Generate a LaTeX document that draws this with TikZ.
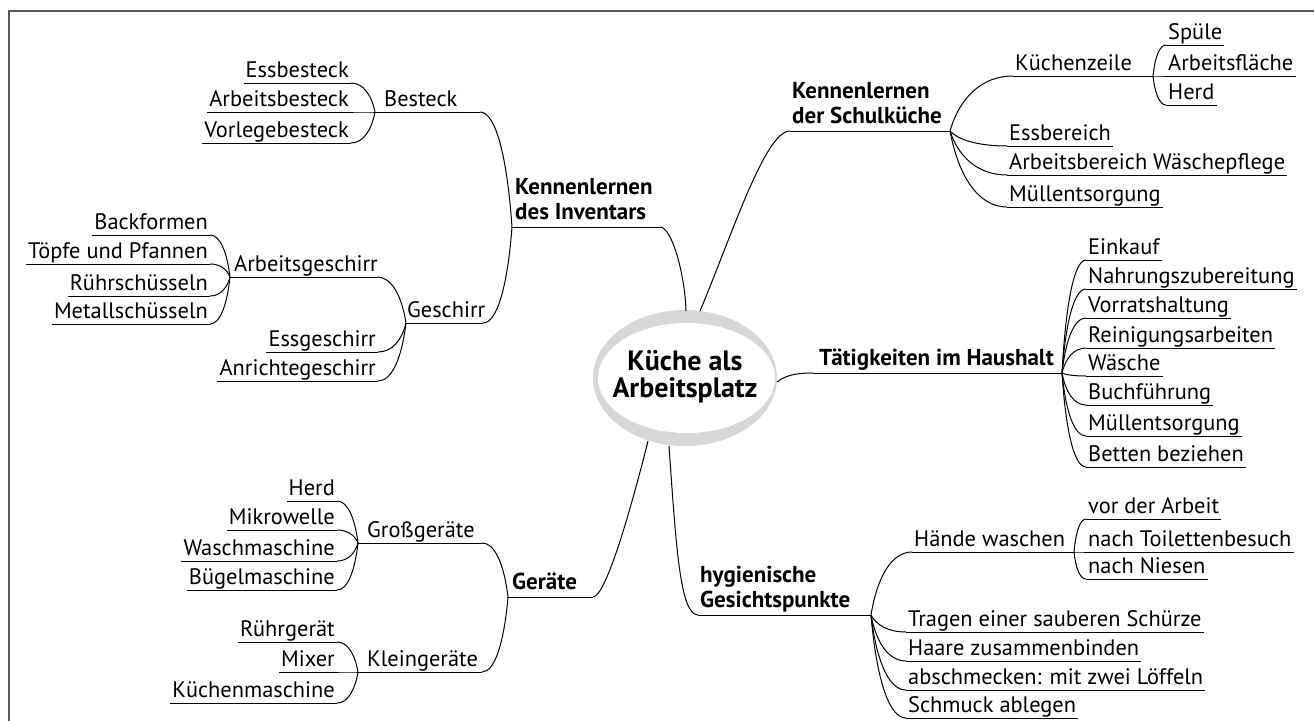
\documentclass[tikz,border=0pt]{standalone}
\usepackage{fontspec}
\setmainfont{PT Sans}
\usetikzlibrary{calc,shapes.geometric}
\definecolor{ringgray}{HTML}{D6D7D7}
\definecolor{framegray}{HTML}{5A5A5A}
\tikzset{
  conn/.style={line width=1pt, black},
  lbl/.style={font=\fontsize{22.4}{26}\selectfont, inner xsep=2pt, inner ysep=5pt, text depth=0pt},
  mainlbl/.style={font=\bfseries\fontsize{23}{25}\selectfont, align=left, inner xsep=2pt, inner ysep=7.5pt, text depth=0pt},
  frameline/.style={line width=1.6pt, framegray}
}
% curve from junction #1 to child underline end #2
\newcommand\lnk[2]{\draw[conn] let \p1=(#1), \p2=(#2) in (\p1) .. controls ({\x1+0.15*(\x2-\x1)},{\y1+0.6*(\y2-\y1)}) and ({\x1+0.5*(\x2-\x1)},{\y2}) .. (\p2);}
% leaf on the right side: name, x start, y underline, text
\newcommand\leafR[4]{\node[lbl,anchor=south west] (#1) at (#2,#3) {#4}; \draw[conn] (#1.south west) -- (#1.south east);}
% leaf on the left side: name, x end, y underline, text
\newcommand\leafL[4]{\node[lbl,anchor=south east] (#1) at (#2,#3) {#4}; \draw[conn] (#1.south east) -- (#1.south west);}
\begin{document}
\begin{tikzpicture}[x=1pt,y=-1pt]
\useasboundingbox (0,0) rectangle (1314,720);
\fill[white] (0,0) rectangle (1314,720);
\draw[frameline] (9,721) -- (9,11) -- (1315,11);

% ---------- centre ----------
\node[ellipse, fill=ringgray, minimum width=184pt, minimum height=136pt, inner sep=0pt] (ring) at (685,378) {};
\node[ellipse, fill=white, minimum width=177pt, minimum height=110pt, inner sep=0pt] (hole) at (686.5,378) {};
\node[font=\bfseries\fontsize{28}{27}\selectfont, align=center, text depth=0pt, inner sep=0pt] (center) at (685,373.5) {Küche als\\Arbeitsplatz};
\coordinate (eKdi) at (686,311);
\coordinate (eKs) at (700,311);
\coordinate (eTat) at (777,382);
\coordinate (eHyg) at (669,446);
\coordinate (eGer) at (648,441);

% ---------- Kennenlernen des Inventars ----------
\coordinate (kdiL) at (512,227); \coordinate (kdiR) at (660,227);
\node[mainlbl, anchor=south west] (kdi) at (513,227) {Kennenlernen\\des Inventars};
\draw[conn] (kdiL) -- (kdiR);
\draw[conn] (eKdi) .. controls (685,275) and (672,227) .. (kdiR);

\coordinate (besL) at (375,112); \coordinate (besR) at (480,112);
\node[lbl, anchor=south west] (bes) at (382,112) {Besteck};
\draw[conn] (besL) -- (besR);
\lnk{kdiL}{besR}
\leafL{b1}{351}{83}{Essbesteck}
\leafL{b2}{351}{112}{Arbeitsbesteck}
\leafL{b3}{351}{143}{Vorlegebesteck}
\lnk{besL}{b1.south east}
\lnk{besL}{b2.south east}
\lnk{besL}{b3.south east}

\coordinate (gesL) at (406,323); \coordinate (gesR) at (483,323);
\node[lbl, anchor=south west] (ges) at (405,323) {Geschirr};
\draw[conn] (gesL) -- (gesR);
\lnk{kdiL}{gesR}

\coordinate (agL) at (230,277); \coordinate (agR) at (377,277);
\node[lbl, anchor=south west] (ag) at (232,277) {Arbeitsgeschirr};
\draw[conn] (agL) -- (agR);
\lnk{gesL}{agR}
\leafL{a1}{210}{235}{Backformen}
\leafL{a2}{210}{264}{Töpfe und Pfannen}
\leafL{a3}{210}{296}{Rührschüsseln}
\leafL{a4}{210}{324}{Metallschüsseln}
\lnk{agL}{a1.south east}
\lnk{agL}{a2.south east}
\lnk{agL}{a3.south east}
\lnk{agL}{a4.south east}
\leafL{g1}{378}{352}{Essgeschirr}
\leafL{g2}{378}{381}{Anrichtegeschirr}
\lnk{gesL}{g1.south east}
\lnk{gesL}{g2.south east}

% ---------- Geräte ----------
\coordinate (gerL) at (508,597); \coordinate (gerR) at (593,597);
\node[mainlbl, anchor=south west] (ger) at (510,597) {Geräte};
\draw[conn] (gerL) -- (gerR);
\draw[conn] (eGer) .. controls (632,505) and (606,597) .. (gerR);

\coordinate (ggL) at (358,543); \coordinate (ggR) at (482,543);
\node[lbl, anchor=south west] (gg) at (365,543) {Großgeräte};
\draw[conn] (ggL) -- (ggR);
\lnk{gerL}{ggR}
\leafL{r1}{337}{501}{Herd}
\leafL{r2}{337}{530}{Mikrowelle}
\leafL{r3}{337}{561}{Waschmaschine}
\leafL{r4}{337}{590}{Bügelmaschine}
\lnk{ggL}{r1.south east}
\lnk{ggL}{r2.south east}
\lnk{ggL}{r3.south east}
\lnk{ggL}{r4.south east}

\coordinate (kgL) at (358,672); \coordinate (kgR) at (482,672);
\node[lbl, anchor=south west] (kg) at (365,672) {Kleingeräte};
\draw[conn] (kgL) -- (kgR);
\lnk{gerL}{kgR}
\leafL{k1}{337}{642}{Rührgerät}
\leafL{k2}{337}{672}{Mixer}
\leafL{k3}{337}{703}{Küchenmaschine}
\lnk{kgL}{k1.south east}
\lnk{kgL}{k2.south east}
\lnk{kgL}{k3.south east}

% ---------- Kennenlernen der Schulküche ----------
\coordinate (ksL) at (790,131); \coordinate (ksR) at (950,131);
\node[mainlbl, anchor=south west] (ks) at (790,131) {Kennenlernen\\der Schulküche};
\draw[conn] (ksL) -- (ksR);
\draw[conn] (eKs) .. controls (732,235) and (765,131) .. (ksL);

\coordinate (kzL) at (1013,76); \coordinate (kzR) at (1153,76);
\node[lbl, anchor=south west] (kz) at (1013,76) {Küchenzeile};
\draw[conn] (kzL) -- (kzR);
\lnk{ksR}{kzL}
\leafR{z1}{1166}{45}{Spüle}
\leafR{z2}{1166}{76}{Arbeitsfläche}
\leafR{z3}{1166}{105}{Herd}
\lnk{kzR}{z1.south west}
\lnk{kzR}{z2.south west}
\lnk{kzR}{z3.south west}
\leafR{s1}{1007}{146}{Essbereich}
\leafR{s2}{1007}{175}{Arbeitsbereich Wäschepflege}
\leafR{s3}{1007}{207}{Müllentsorgung}
\lnk{ksR}{s1.south west}
\lnk{ksR}{s2.south west}
\lnk{ksR}{s3.south west}

% ---------- Tätigkeiten im Haushalt ----------
\coordinate (tatL) at (814,373); \coordinate (tatR) at (1062,373);
\node[mainlbl, anchor=south west] (tat) at (817,373) {Tätigkeiten im Haushalt};
\draw[conn] (tatL) -- (tatR);
\draw[conn] (eTat) .. controls (786,375) and (796,373) .. (tatL);
\leafR{t1}{1086}{260}{Einkauf}
\leafR{t2}{1086}{289}{Nahrungszubereitung}
\leafR{t3}{1086}{318}{Vorratshaltung}
\leafR{t4}{1086}{348}{Reinigungsarbeiten}
\leafR{t5}{1086}{376}{Wäsche}
\leafR{t6}{1086}{405}{Buchführung}
\leafR{t7}{1086}{436}{Müllentsorgung}
\leafR{t8}{1086}{467}{Betten beziehen}
\foreach \i in {1,...,8} {\lnk{tatR}{t\i.south west}}

% ---------- hygienische Gesichtspunkte ----------
\coordinate (hygL) at (698,615); \coordinate (hygR) at (871,615);
\node[mainlbl, anchor=south west] (hyg) at (698,615) {hygienische\\Gesichtspunkte};
\draw[conn] (hygL) -- (hygR);
\draw[conn] (eHyg) .. controls (676,545) and (680,615) .. (hygL);

\coordinate (hwL) at (912,552); \coordinate (hwR) at (1074,552);
\node[lbl, anchor=south west] (hw) at (912,552) {Hände waschen};
\draw[conn] (hwL) -- (hwR);
\lnk{hygR}{hwL}
\leafR{w1}{1086}{519}{vor der Arbeit}
\leafR{w2}{1086}{552}{nach Toilettenbesuch}
\leafR{w3}{1086}{579}{nach Niesen}
\lnk{hwR}{w1.south west}
\lnk{hwR}{w2.south west}
\lnk{hwR}{w3.south west}
\leafR{h1}{906}{632}{Tragen einer sauberen Schürze}
\leafR{h2}{906}{661}{Haare zusammenbinden}
\leafR{h3}{906}{690}{abschmecken: mit zwei Löffeln}
\leafR{h4}{906}{718}{Schmuck ablegen}
\lnk{hygR}{h1.south west}
\lnk{hygR}{h2.south west}
\lnk{hygR}{h3.south west}
\lnk{hygR}{h4.south west}
\end{tikzpicture}
\end{document}
